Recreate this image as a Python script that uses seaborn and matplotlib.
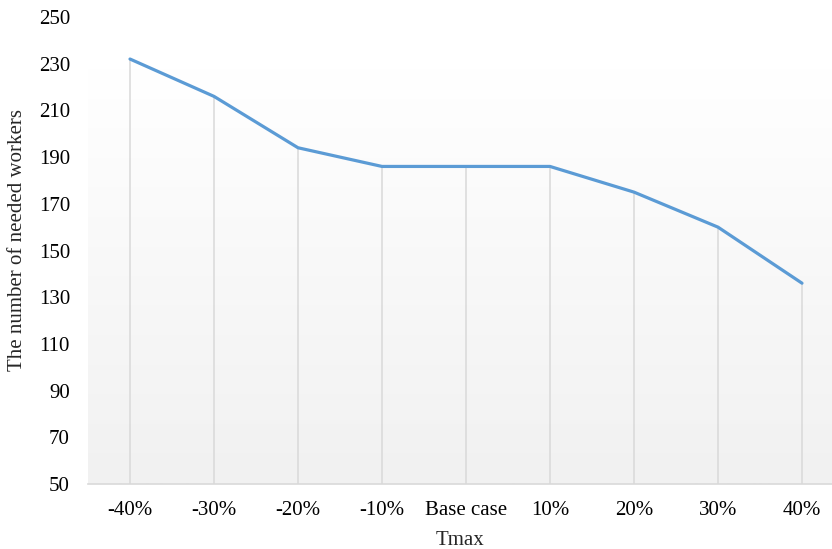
import numpy as np
import pandas as pd
import matplotlib
matplotlib.use("Agg")
import matplotlib.pyplot as plt
import seaborn as sns
from matplotlib.colors import LinearSegmentedColormap

# Sensitivity of the workforce requirement to Tmax
scenarios = ["-40%", "-30%", "-20%", "-10%", "Base case", "10%", "20%", "30%", "40%"]
workers = [232, 216, 194, 186, 186, 186, 175, 160, 136]
y_ticks = [50, 70, 90, 110, 130, 150, 170, 190, 210, 230, 250]

sns.set_theme(style="white")
plt.rcParams["font.family"] = ["Liberation Serif", "DejaVu Serif"]

df = pd.DataFrame({"pos": np.arange(len(scenarios)), "scenario": scenarios, "workers": workers})

fig = plt.figure(figsize=(8.32, 5.49), dpi=100)
W, H = 832, 549
ax = fig.add_axes([88 / W, (H - 484) / H, (W - 88) / W, (484 - 17) / H])

x_lo, x_hi = -0.5, (832 - 130) / 84
y_lo, y_hi = 50, 250
FS = 15

# soft vertical gradient in the plotting area, white at the top
grad = np.linspace(0, 1, 256).reshape(-1, 1)
cmap = LinearSegmentedColormap.from_list("bg", ["#ffffff", "#f1f1f1"])
ax.imshow(grad, aspect="auto", cmap=cmap, extent=[x_lo, x_hi, y_lo, 228],
          zorder=0, origin="upper")

# drop lines from each point down to the axis
ax.vlines(df["pos"], y_lo, df["workers"], color="#d9d9d9", linewidth=1.1, zorder=1)

sns.lineplot(data=df, x="pos", y="workers", ax=ax, color="#5b9bd5",
             linewidth=2.3, zorder=3, solid_capstyle="round")

ax.set_xlim(x_lo, x_hi)
ax.set_ylim(y_lo, y_hi)
ax.set_xticks(df["pos"])
ax.set_xticklabels(scenarios)
ax.set_yticks(y_ticks)

for s in ["top", "right", "left"]:
    ax.spines[s].set_visible(False)
ax.spines["bottom"].set_color("#d9d9d9")
ax.spines["bottom"].set_linewidth(1.2)
ax.tick_params(axis="both", length=0, labelsize=FS, colors="#000000")
ax.tick_params(axis="x", pad=12)
ax.tick_params(axis="y", pad=13)

ax.set_xlabel("Tmax", fontsize=FS, labelpad=8)
ax.set_ylabel("The number of needed workers", fontsize=FS)
ax.yaxis.set_label_coords(-61 / 744, (484 - 240) / 467)
ax.grid(False)

fig.savefig("out.png", dpi=100)
